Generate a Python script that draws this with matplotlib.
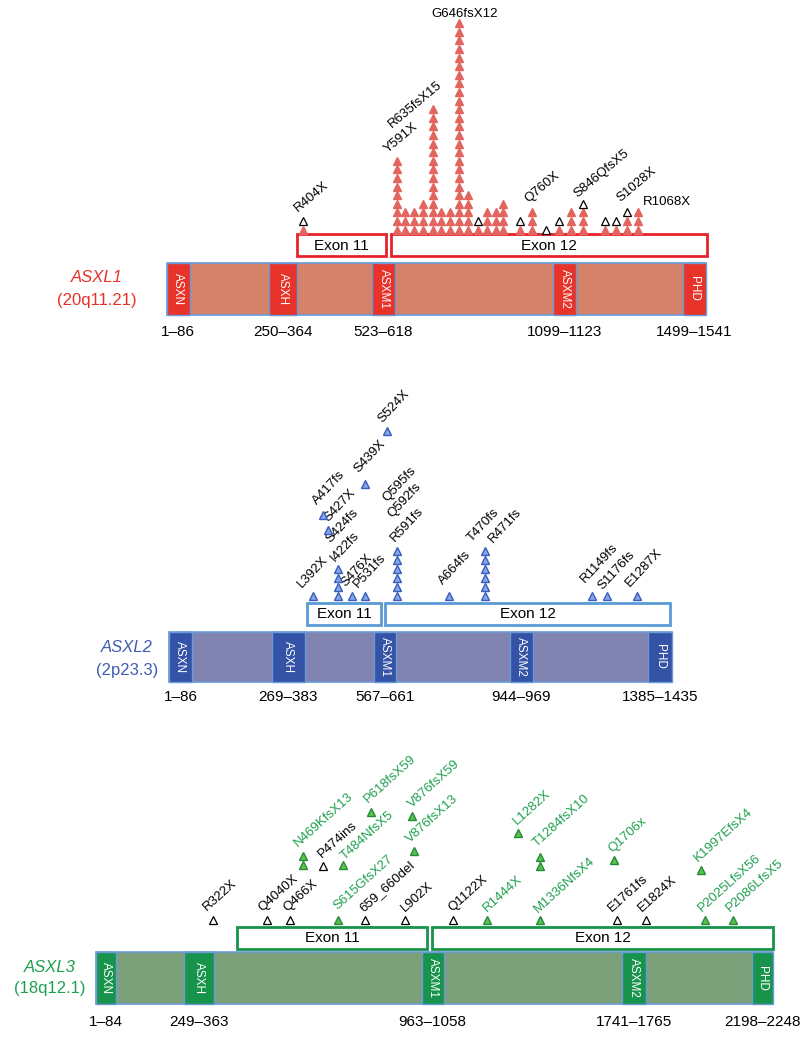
import matplotlib.pyplot as plt
from matplotlib.patches import Rectangle

plt.rcParams['font.family'] = ['Liberation Sans', 'DejaVu Sans']

# ---------------- data ----------------
# ASXL1
asxl1_dom_names = ['ASXN', 'ASXH', 'ASXM1', 'ASXM2', 'PHD']
asxl1_dom_x0 = [166.5, 268.5, 372, 553, 682.5]
asxl1_dom_x1 = [190, 296.5, 395, 576, 706]
asxl1_ranges = ['1–86', '250–364', '523–618', '1099–1123', '1499–1541']
asxl1_exon_x0 = [296.5, 390.5]
asxl1_exon_x1 = [386, 706.5]
# stacked columns: filled (recurrent) + open triangles on top
asxl1_col_x = [303, 396.7, 405.3, 414, 422.5, 432.5, 441, 449.5, 459, 467.5, 478.3, 487,
               495.5, 503, 520, 531.7, 545.5, 559.3, 571, 583, 605, 616.3, 627, 638]
asxl1_n_fill = [1, 9, 3, 3, 4, 15, 3, 3, 25, 5, 1, 3, 3, 4, 1, 3, 0, 1, 3, 3, 1, 1, 2, 3]
asxl1_n_open = [1, 0, 0, 0, 0, 0, 0, 0, 0, 0, 1, 0, 0, 0, 1, 0, 1, 1, 0, 1, 1, 1, 1, 0]
asxl1_mut_labels = ['R404X', 'Y591X', 'R635fsX15', 'G646fsX12', 'Q760X', 'S846QfsX5',
                    'S1028X', 'R1068X']

# ASXL2
asxl2_dom_names = ['ASXN', 'ASXH', 'ASXM1', 'ASXM2', 'PHD']
asxl2_dom_x0 = [169.3, 271.8, 374.3, 509.5, 648.4]
asxl2_dom_x1 = [191.5, 304.6, 396.4, 532.9, 672.2]
asxl2_ranges = ['1–86', '269–383', '567–661', '944–969', '1385–1435']
asxl2_exon_x0 = [306.6, 385.3]
asxl2_exon_x1 = [381.2, 670]
asxl2_mut_x = [313.3, 322.7, 328.3, 338.3, 351.7, 365, 365, 386.7, 397.3, 449.3, 485,
               591.7, 606.7, 637.3]
asxl2_mut_n = [1, 1, 1, 4, 1, 1, 1, 1, 6, 1, 6, 1, 1, 1]
asxl2_mut_lvl = [0, 9, 7.3, 0, 0, 0, 12.5, 18.3, 0, 0, 0, 0, 0, 0]
asxl2_mut_labels = ['L392X', 'A417fs', 'S427X', 'S424fs', 'I422fs', 'S476X', 'P531fs',
                    'S439X', 'S524X', 'Q595fs', 'Q592fs', 'R591fs', 'A664fs', 'T470fs',
                    'R471fs', 'R1149fs', 'S1176fs', 'E1287X']

# ASXL3
asxl3_dom_names = ['ASXN', 'ASXH', 'ASXM1', 'ASXM2', 'PHD']
asxl3_dom_x0 = [95.7, 183.5, 421.7, 622, 752]
asxl3_dom_x1 = [115.6, 214, 443.7, 646, 773]
asxl3_ranges = ['1–84', '249–363', '963–1058', '1741–1765', '2198–2248']
asxl3_exon_x0 = [237, 432]
asxl3_exon_x1 = [427, 773]
asxl3_mut_labels = ['R322X', 'Q4040X', 'Q466X', 'N469KfsX13', 'P474ins', 'T484NfsX5',
                    'S615GfsX27', 'P618fsX59', '659_660del', 'V876fsX59', 'V876fsX13',
                    'L902X', 'Q1122X', 'R1444X', 'L1282X', 'T1284fsX10', 'M1336NfsX4',
                    'Q1706x', 'E1761fs', 'E1824X', 'K1997EfsX4', 'P2025LfsX56', 'P2086LfsX5']
asxl3_mut_x = [213, 267.3, 290, 302.7, 322.7, 342.7, 338.3, 370.7, 365, 411.7, 414, 405,
               452.7, 487.3, 518.3, 540, 540, 614, 616.7, 646, 701, 705, 733.3]
asxl3_mut_lvl = [0, 0, 0, 6.1, 5.9, 6.1, 0, 11.9, 0, 11.5, 7.6, 0, 0, 0, 9.6, 5.9, 0,
                 6.6, 0, 0, 5.5, 0, 0]
asxl3_mut_n = [1, 1, 1, 2, 1, 1, 1, 1, 1, 1, 1, 1, 1, 1, 1, 2, 1, 1, 1, 1, 1, 1, 1]
asxl3_mut_green = [0, 0, 0, 1, 0, 1, 1, 1, 0, 1, 1, 0, 0, 1, 1, 1, 1, 1, 0, 0, 1, 1, 1]

# ---------------- layout ----------------
genes = [
    dict(name='ASXL1', loc='(20q11.21)', name_xy=(97, 278), tc='#E8302A',
         bar=(262.5, 315), bar_c='#D4826A', dom_c='#E8332A', exon=(234, 256), exon_c='#E8232A',
         dom_names=asxl1_dom_names, x0=asxl1_dom_x0, x1=asxl1_dom_x1, ranges=asxl1_ranges,
         ex0=asxl1_exon_x0, ex1=asxl1_exon_x1, range_y=332),
    dict(name='ASXL2', loc='(2p23.3)', name_xy=(127, 648), tc='#3E5FB0',
         bar=(631.7, 681.5), bar_c='#8183B1', dom_c='#3452A6', exon=(603, 625), exon_c='#5B9BD5',
         dom_names=asxl2_dom_names, x0=asxl2_dom_x0, x1=asxl2_dom_x1, ranges=asxl2_ranges,
         ex0=asxl2_exon_x0, ex1=asxl2_exon_x1, range_y=697),
    dict(name='ASXL3', loc='(18q12.1)', name_xy=(50, 967), tc='#1FA04E',
         bar=(952, 1004), bar_c='#7CA07A', dom_c='#18934C', exon=(927, 949), exon_c='#18934C',
         dom_names=asxl3_dom_names, x0=asxl3_dom_x0, x1=asxl3_dom_x1, ranges=asxl3_ranges,
         ex0=asxl3_exon_x0, ex1=asxl3_exon_x1, range_y=1022),
]
edge_blue = '#6A9BD8'
lab_fs = 9.5

fig = plt.figure(figsize=(8, 10.44), dpi=100)
ax = fig.add_axes([0, 0, 1, 1])
ax.set_xlim(0, 800)
ax.set_ylim(1044, 0)
ax.axis('off')

for g in genes:
    y0, y1 = g['bar']
    ax.add_patch(Rectangle((g['x0'][0], y0), g['x1'][-1] - g['x0'][0], y1 - y0,
                           facecolor=g['bar_c'], edgecolor=edge_blue, lw=1.2, zorder=1))
    for nm, a, b, rg in zip(g['dom_names'], g['x0'], g['x1'], g['ranges']):
        ax.add_patch(Rectangle((a, y0), b - a, y1 - y0, facecolor=g['dom_c'],
                               edgecolor=edge_blue, lw=1.0, zorder=2))
        ax.text((a + b) / 2, (y0 + y1) / 2, nm, rotation=270, color='white', fontsize=8.5,
                ha='center', va='center', zorder=3)
        ax.text((a + b) / 2, g['range_y'], rg, fontsize=11, ha='center', va='center')
    e0, e1 = g['exon']
    for k, (a, b) in enumerate(zip(g['ex0'], g['ex1'])):
        ax.add_patch(Rectangle((a, e0), b - a, e1 - e0, facecolor='white',
                               edgecolor=g['exon_c'], lw=2.0, zorder=2))
        ax.text((a + b) / 2, (e0 + e1) / 2 + 0.5, 'Exon 1%d' % (k + 1), fontsize=11,
                ha='center', va='center', zorder=3)
    nx, ny = g['name_xy']
    ax.text(nx, ny, g['name'], color=g['tc'], fontsize=12, style='italic', ha='center', va='center')
    ax.text(nx, ny + 22, g['loc'], color=g['tc'], fontsize=12, ha='center', va='center')

ms = 5.8

# ASXL1 stacked columns
base1, step1 = 229.5, 8.6
for x, nf, no in zip(asxl1_col_x, asxl1_n_fill, asxl1_n_open):
    ys = [base1 - i * step1 for i in range(nf)]
    ax.plot([x] * nf, ys, ls='none', marker='^', ms=ms, mfc='#E4655F', mec='#E4655F', zorder=4)
    yo = [base1 - (nf + i) * step1 for i in range(no)]
    ax.plot([x] * no, yo, ls='none', marker='^', ms=ms - 0.6, mfc='white', mec='black',
            mew=0.9, zorder=4)

asxl1_lab_pos = [(298, 212, 40), (388, 153, 40), (392, 128, 40), (465, 17, 0),
                 (528, 203, 40), (577, 198, 40), (620, 202, 40), (643, 205, 0)]
for t, (x, y, r) in zip(asxl1_mut_labels, asxl1_lab_pos):
    ax.text(x, y, t, fontsize=lab_fs, rotation=r, rotation_mode='anchor',
            ha='center' if t == 'G646fsX12' else 'left', va='baseline')

# ASXL2
base2, step2 = 596, 9
for x, n, lv in zip(asxl2_mut_x, asxl2_mut_n, asxl2_mut_lvl):
    ys = [base2 - (lv + i) * step2 for i in range(n)]
    ax.plot([x] * n, ys, ls='none', marker='^', ms=ms, mfc='#86A6E4', mec='#3A5DBE',
            mew=1.0, zorder=4)

asxl2_lab_pos = [(302, 588), (317, 505), (328, 522), (330, 543), (335, 562), (345, 587),
                 (358, 588), (358, 473), (382, 423), (387, 502), (392, 518), (395, 542),
                 (443, 585), (472, 542), (493, 543), (585, 583), (602, 590), (630, 587)]
for t, (x, y) in zip(asxl2_mut_labels, asxl2_lab_pos):
    ax.text(x, y, t, fontsize=lab_fs, rotation=47, rotation_mode='anchor', ha='left', va='baseline')

# ASXL3
base3, step3 = 919.5, 9
for x, n, lv, gr in zip(asxl3_mut_x, asxl3_mut_n, asxl3_mut_lvl, asxl3_mut_green):
    ys = [base3 - (lv + i) * step3 for i in range(n)]
    if gr:
        ax.plot([x] * n, ys, ls='none', marker='^', ms=ms, mfc='#5DC24A', mec='#238B3A',
                mew=1.0, zorder=4)
    else:
        ax.plot([x] * n, ys, ls='none', marker='^', ms=ms - 0.6, mfc='white', mec='black',
                mew=0.9, zorder=4)

asxl3_lab_pos = [(207, 911), (262, 912), (287, 912), (298, 847), (322, 858), (345, 860),
                 (337, 910), (368, 803), (363, 912), (412, 808), (410, 843), (405, 912),
                 (452, 912), (487, 912), (517, 825), (537, 847), (538, 913), (612, 853),
                 (612, 912), (642, 912), (698, 862), (702, 912), (730, 912)]
for t, (x, y), gr in zip(asxl3_mut_labels, asxl3_lab_pos, asxl3_mut_green):
    ax.text(x, y, t, fontsize=lab_fs, rotation=42, rotation_mode='anchor', ha='left', va='baseline',
            color='#1FA04E' if gr else 'black')

fig.savefig('out.png', dpi=100)
